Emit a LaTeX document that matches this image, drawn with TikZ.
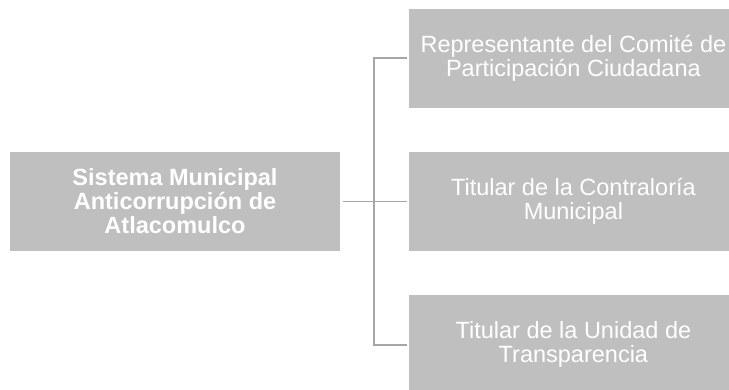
\documentclass[tikz,border=0pt]{standalone}
\usepackage{fontspec}
\setmainfont{Liberation Sans}
\usetikzlibrary{positioning}
\definecolor{boxgray}{HTML}{BFBFBF}
\definecolor{linegray}{HTML}{A6A6A6}
\tikzset{
  head/.style={fill=boxgray, draw=none, inner sep=2pt, minimum width=330pt, minimum height=99pt, align=center, text=white, font=\fontsize{23.5}{24}\selectfont\bfseries},
  member/.style={fill=boxgray, draw=none, inner sep=2pt, minimum width=328pt, minimum height=99pt, align=center, text=white, font=\fontsize{23.5}{24}\selectfont},
  link/.style={draw=linegray, line width=1.7pt}
}

\begin{document}
\begin{tikzpicture}[x=1pt, y=1pt, node distance=44pt]
  \useasboundingbox (0,0) rectangle (729,389);
  \begin{scope}
  \clip (0,0) rectangle (729,389);
  \node[head] (sys) at (175,187.5) {Sistema Municipal\\Anticorrupción de\\Atlacomulco};
  \node[member, right=69pt of sys] (mid) {Titular de la Contraloría\\Municipal};
  \node[member, above=of mid] (top) {Representante del Comité de\\Participación Ciudadana};
  \node[member, below=of mid] (bot) {Titular de la Unidad de\\Transparencia};

  \coordinate (bus) at ([xshift=34pt]sys.east);
  \draw[link] ([xshift=3pt]sys.east) -- ([xshift=-2pt]mid.west);
  \draw[link] ([xshift=-2pt]top.west) -| (bus) |- ([xshift=-2pt]bot.west);
  \end{scope}
\end{tikzpicture}
\end{document}
